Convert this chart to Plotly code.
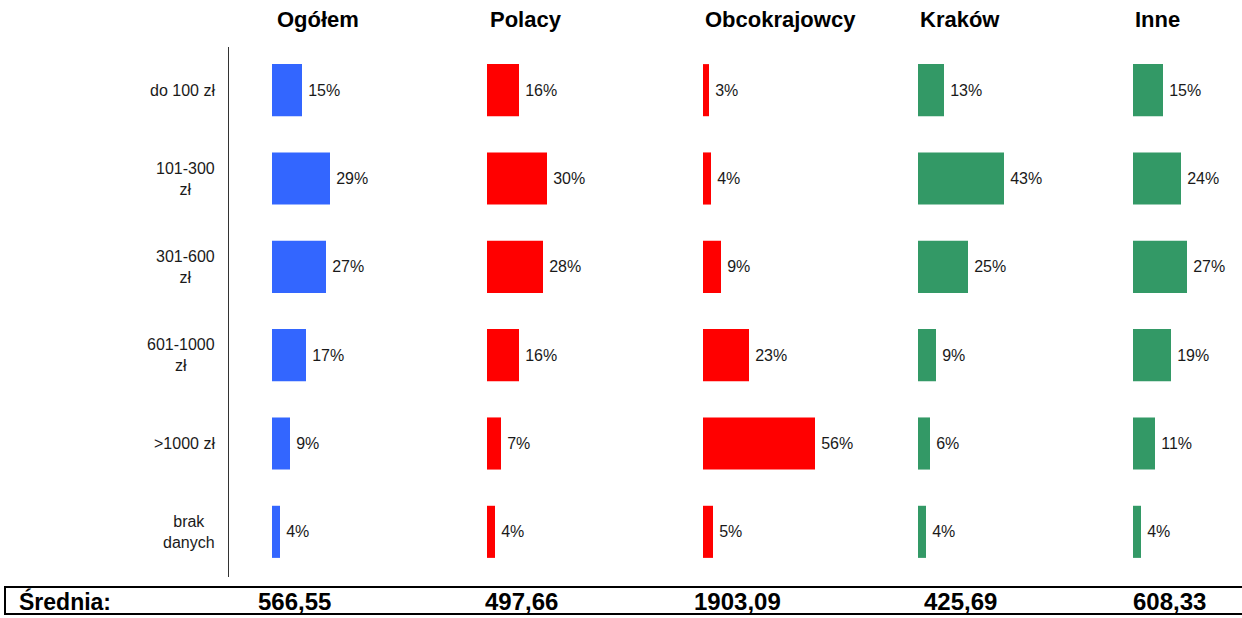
import plotly.graph_objects as go

# Spending brackets and the share of respondents in each group (in %)
categories = ["do 100 zł", "101-300<br>zł", "301-600<br>zł", "601-1000<br>zł", ">1000 zł", "brak<br>danych"]
groups = ["Ogółem", "Polacy", "Obcokrajowcy", "Kraków", "Inne"]
ogolem = [15, 29, 27, 17, 9, 4]
polacy = [16, 30, 28, 16, 7, 4]
obcokrajowcy = [3, 4, 9, 23, 56, 5]
krakow = [13, 43, 25, 9, 6, 4]
inne = [15, 24, 27, 19, 11, 4]
averages = ["566,55", "497,66", "1903,09", "425,69", "608,33"]

series = [ogolem, polacy, obcokrajowcy, krakow, inne]
colors = ["#3366FF", "#FF0000", "#FF0000", "#339966", "#339966"]

W, H = 1242, 618
PX_PER_PCT = 2.0
panel_left = [272, 487, 703, 918, 1133]   # pixel where each panel's zero sits
panel_width = 190
plot_top, plot_bottom = 46, 576
FONT = "Liberation Sans, Arial"

def px(x):
    return x / W

def py(y):
    return 1 - y / H

fig = go.Figure()
layout_axes = {}
ycats = list(range(len(categories)))

for i, (vals, col) in enumerate(zip(series, colors)):
    n = "" if i == 0 else str(i + 1)
    left = panel_left[i]
    width = min(panel_width, W - left)
    fig.add_trace(go.Bar(
        x=vals, y=ycats, orientation="h",
        marker=dict(color=col, line=dict(width=0)),
        width=0.59,
        text=[f"\u2009{v}%" for v in vals],
        textposition="outside",
        constraintext="none",
        cliponaxis=False,
        textfont=dict(family=FONT, size=16, color="#1a1a1a"),
        xaxis="x" + n, yaxis="y" + n,
        showlegend=False, hoverinfo="skip",
    ))
    layout_axes["xaxis" + n] = dict(
        domain=[px(left), px(left + width)],
        range=[0, width / PX_PER_PCT],
        visible=False, fixedrange=True,
        anchor="y" + n,
    )
    layout_axes["yaxis" + n] = dict(
        domain=[py(plot_bottom), py(plot_top)],
        range=[len(categories) - 0.5, -0.5],
        visible=False, fixedrange=True,
        anchor="x" + n,
    )

fig.update_layout(**layout_axes)

annotations = []
# Group titles
title_x = [275, 488, 703, 918, 1133]
for g, tx in zip(groups, title_x):
    annotations.append(dict(
        text=f"<b>{g}</b>", x=px(tx), y=py(19), xref="paper", yref="paper",
        xanchor="left", yanchor="middle", showarrow=False,
        font=dict(family=FONT, size=22, color="#000000"),
    ))

# Category labels left of the first panel
for k, c in enumerate(categories):
    annotations.append(dict(
        text=c, x=px(217), y=k, xref="paper", yref="y",
        xanchor="right", yanchor="middle", align="center", showarrow=False,
        font=dict(family=FONT, size=16, color="#1a1a1a"),
    ))

# Averages row
annotations.append(dict(
    text="<b>Średnia:</b>", x=px(17), y=py(601), xref="paper", yref="paper",
    xanchor="left", yanchor="middle", showarrow=False,
    font=dict(family=FONT, size=23, color="#000000"),
))
avg_x = [294, 521, 737, 960, 1169]
for a, ax in zip(averages, avg_x):
    annotations.append(dict(
        text=f"<b>{a}</b>", x=px(ax), y=py(601), xref="paper", yref="paper",
        xanchor="center", yanchor="middle", showarrow=False,
        font=dict(family=FONT, size=24, color="#000000"),
    ))

shapes = [
    # separator between labels and bars
    dict(type="line", xref="paper", yref="paper", x0=px(228.5), x1=px(228.5),
         y0=py(47), y1=py(577), line=dict(color="#333333", width=1)),
    # frame around the averages row
    dict(type="line", xref="paper", yref="paper", x0=px(4), x1=1,
         y0=py(587), y1=py(587), line=dict(color="#000000", width=2)),
    dict(type="line", xref="paper", yref="paper", x0=px(4), x1=1,
         y0=py(614), y1=py(614), line=dict(color="#000000", width=2)),
    dict(type="line", xref="paper", yref="paper", x0=px(5), x1=px(5),
         y0=py(587), y1=py(614), line=dict(color="#000000", width=2)),
]

fig.update_layout(
    width=W, height=H,
    margin=dict(l=0, r=0, t=0, b=0),
    paper_bgcolor="white", plot_bgcolor="white",
    annotations=annotations, shapes=shapes,
    bargap=0.41,
)

fig.write_html("out.html", config={"displayModeBar": False})
